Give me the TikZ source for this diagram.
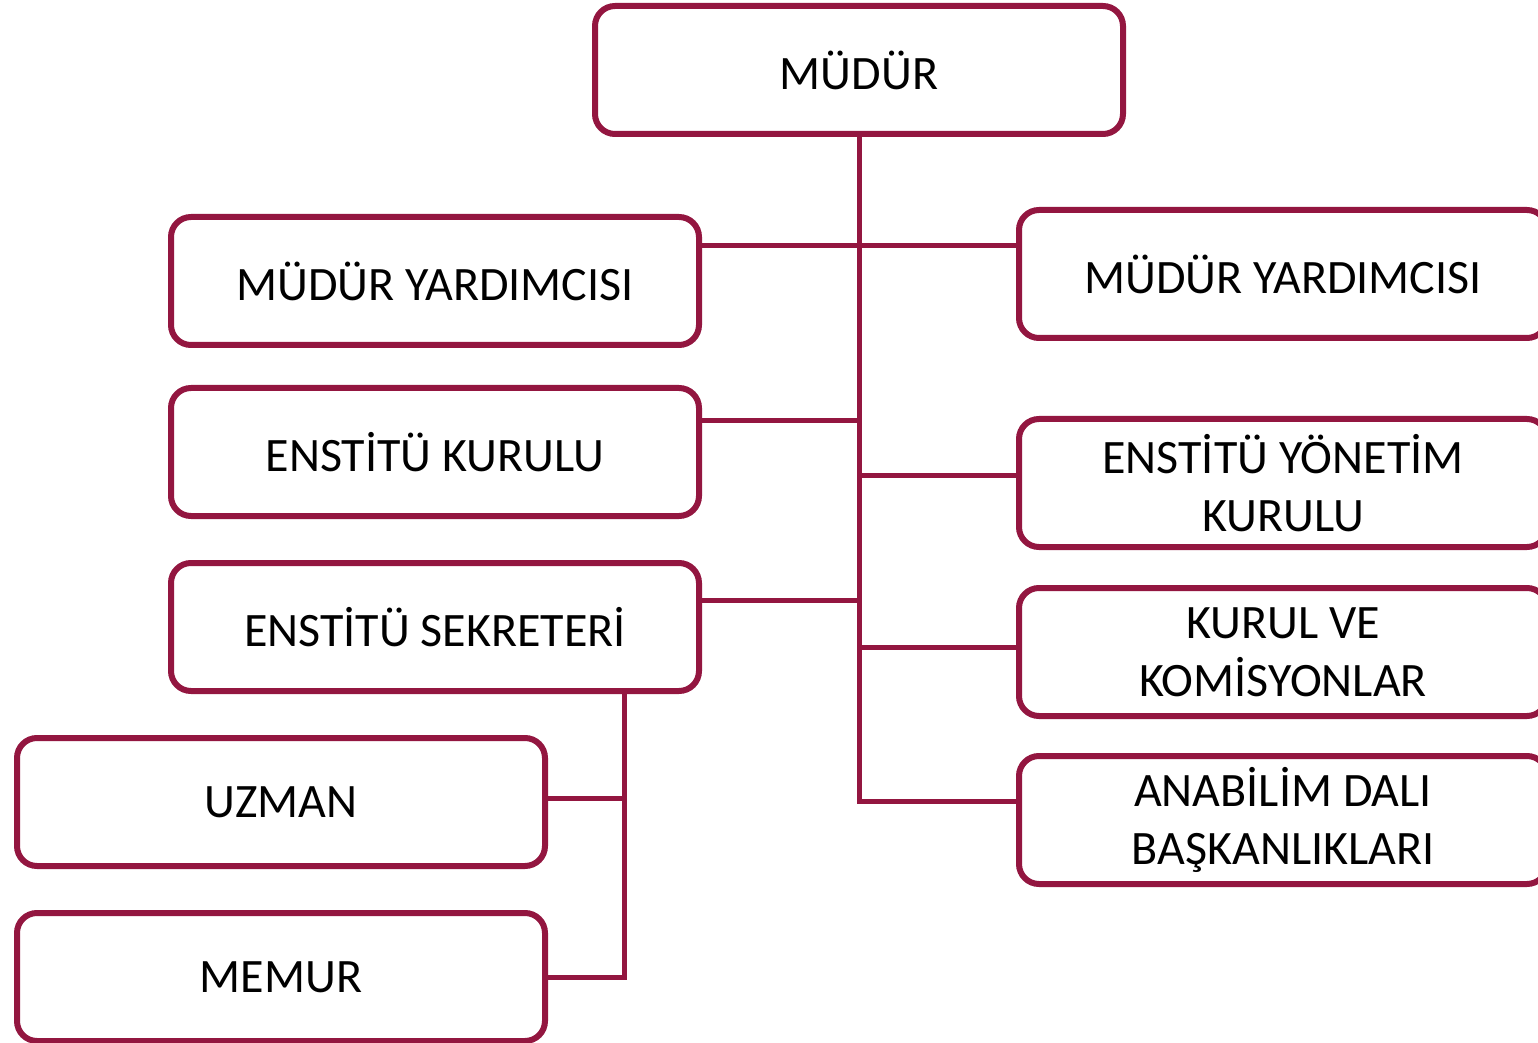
\documentclass[tikz,border=0pt]{standalone}
\usepackage{fontspec}
\setmainfont{Carlito}
\usetikzlibrary{shadows}
\definecolor{bordo}{HTML}{931640}
\tikzset{
  kutu/.style={draw=bordo, line width=3pt, rounded corners=10pt, fill=white,
    minimum width=264pt, minimum height=64pt, align=center,
    font=\fontsize{24}{29}\selectfont,
    drop shadow={opacity=0.25, shadow xshift=1pt, shadow yshift=-1pt}},
  hat/.style={draw=bordo, line width=2.5pt}
}

\begin{document}
\begin{tikzpicture}[x=0.5pt,y=-0.5pt]
\useasboundingbox (0,0) rectangle (1538,1043);

\node[kutu] (mudur) at (859,70) {MÜDÜR};
\node[kutu] (lmy) at (435,281) {MÜDÜR YARDIMCISI};
\node[kutu] (rmy) at (1283,274) {MÜDÜR YARDIMCISI};
\node[kutu] (ek) at (435,452) {ENSTİTÜ KURULU};
\node[kutu] (eyk) at (1283,483) {ENSTİTÜ YÖNETİM\\KURULU};
\node[kutu] (es) at (435,627) {ENSTİTÜ SEKRETERİ};
\node[kutu] (kvk) at (1283,652) {KURUL VE\\KOMİSYONLAR};
\node[kutu] (adb) at (1283,820) {ANABİLİM DALI\\BAŞKANLIKLARI};
\node[kutu] (uzman) at (281,802) {UZMAN};
\node[kutu] (memur) at (281,977) {MEMUR};

% junctions on the trunk
\coordinate (k1) at (859,246);
\coordinate (k2) at (859,421);
\coordinate (k3) at (859,475);
\coordinate (k4) at (859,600);
\coordinate (k5) at (859,647);
\coordinate (k7) at (859,801);
\coordinate (s1) at (624,798);
\coordinate (s2) at (624,977);

\draw[hat] (mudur.south) -- (k7) -- (adb.west |- k7);
\draw[hat] (lmy.east |- k1) -- (rmy.west |- k1);
\draw[hat] (ek.east |- k2) -- (k2);
\draw[hat] (k3) -- (eyk.west |- k3);
\draw[hat] (es.east |- k4) -- (k4);
\draw[hat] (k5) -- (kvk.west |- k5);

\draw[hat] (es.south -| s1) -- (s2) -- (memur.east |- s2);
\draw[hat] (uzman.east |- s1) -- (s1);

\end{tikzpicture}
\end{document}
